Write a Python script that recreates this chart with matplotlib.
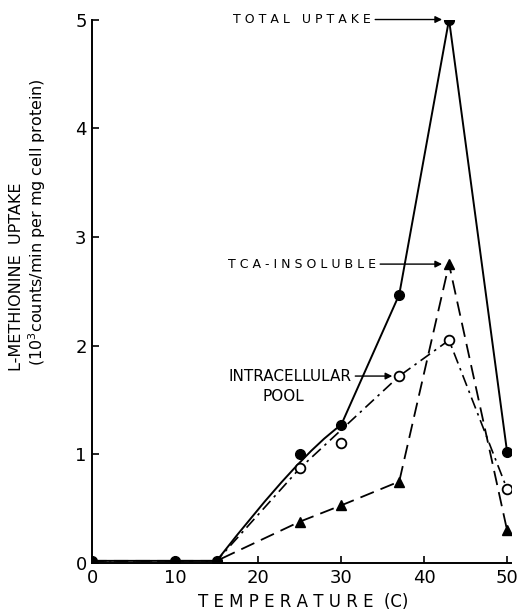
import numpy as np
import matplotlib
matplotlib.use("Agg")
import matplotlib.pyplot as plt
from matplotlib.path import Path
from matplotlib.patches import PathPatch

plt.rcParams['font.family'] = ['DejaVu Sans']

# temperature (C)
temp = [0, 10, 15, 25, 30, 37, 43, 50]
# uptake, 10^3 counts/min per mg cell protein
total = [0.02, 0.02, 0.02, 1.00, 1.27, 2.47, 5.00, 1.02]
pool = [0.02, 0.02, 0.02, 0.87, 1.10, 1.72, 2.05, 0.68]
tca = [0.02, 0.02, 0.02, 0.38, 0.53, 0.75, 2.75, 0.30]

fig = plt.figure(figsize=(5.18, 6.10), dpi=100)
ax = fig.add_axes([0.178, 0.077, 0.809, 0.891])

# total uptake: flat, hand-drawn curve 15->30, then straight segments
verts = [(temp[0], total[0]), (temp[2], total[2]),
         (temp[3], total[3]), (temp[4], total[4]),
         (temp[5], total[5]), (temp[6], total[6]), (temp[7], total[7])]
codes = [Path.MOVETO, Path.LINETO, Path.CURVE3, Path.CURVE3,
         Path.LINETO, Path.LINETO, Path.LINETO]
ax.add_patch(PathPatch(Path(verts, codes), fill=False, lw=1.4, color='black'))
ax.plot(temp, total, 'o', color='black', ms=7)

# intracellular pool (the line skips the 30 C point)
idx = [0, 1, 2, 3, 5, 6, 7]
ax.plot([temp[i] for i in idx], [pool[i] for i in idx], color='black', lw=1.2,
        dashes=(7, 3, 1.5, 3))
ax.plot(temp[3:], pool[3:], 'o', mfc='white', mec='black', mew=1.3, ms=7)

# TCA-insoluble
ax.plot(temp, tca, color='black', lw=1.3, dashes=(8, 4))
ax.plot(temp[3:], tca[3:], '^', color='black', ms=7.5)

ax.set_xlim(0, 50.5)
ax.set_ylim(0, 5.0)
ax.set_xticks([0, 10, 20, 30, 40, 50])
ax.set_yticks([0, 1, 2, 3, 4, 5])
ax.spines['top'].set_visible(False)
ax.spines['right'].set_visible(False)
for s in ['left', 'bottom']:
    ax.spines[s].set_linewidth(1.4)
ax.tick_params(direction='in', length=5, width=1.2, labelsize=13, pad=4)

fig.text(0.032, 0.547, 'L-METHIONINE  UPTAKE', rotation=90, fontsize=11.5,
         ha='center', va='center')
fig.text(0.072, 0.636, '(10$^3$counts/min per mg cell protein)', rotation=90,
         fontsize=11.5, ha='center', va='center')
fig.text(0.585, 0.013, 'T E M P E R A T U R E  (C)', fontsize=12, ha='center',
         va='center')

arrow = dict(arrowstyle='-|>', lw=1.0, color='black', mutation_scale=10,
             shrinkA=1, shrinkB=5)
ax.annotate('T O T A L   U P T A K E', xy=(temp[6], total[6]), xytext=(33.6, total[6]),
            ha='right', va='center', fontsize=9, arrowprops=arrow)
ax.annotate('T C A - I N S O L U B L E', xy=(temp[6], tca[6]), xytext=(34.2, tca[6]),
            ha='right', va='center', fontsize=9, arrowprops=arrow)
ax.annotate('INTRACELLULAR', xy=(temp[5], pool[5]), xytext=(31.2, pool[5]),
            ha='right', va='center', fontsize=11, arrowprops=arrow)
ax.text(23.0, 1.53, 'POOL', ha='center', va='center', fontsize=11)

fig.savefig('out.png', dpi=100)
